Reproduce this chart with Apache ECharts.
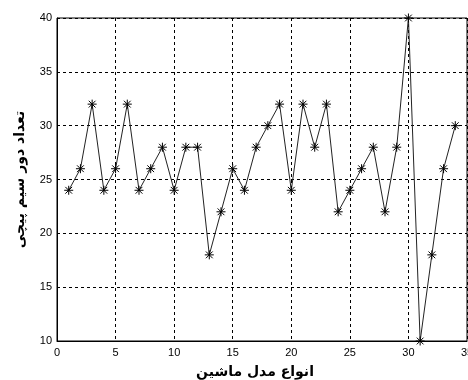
<!DOCTYPE html>
<html>
<head>
<meta charset="utf-8">
<script src="https://cdn.jsdelivr.net/npm/echarts@6/dist/echarts.min.js"></script>
<style>html,body{margin:0;padding:0;background:#fff}#c{width:468px;height:380px}</style>
</head>
<body>
<div id="c"></div>
<script>
var xValues = [1,2,3,4,5,6,7,8,9,10,11,12,13,14,15,16,17,18,19,20,21,22,23,24,25,26,27,28,29,30,31,32,33,34];
var yValues = [24,26,32,24,26,32,24,26,28,24,28,28,18,22,26,24,28,30,32,24,32,28,32,22,24,26,28,22,28,40,10,18,26,30];
var xTitle = 'انواع مدل ماشین';
var yTitle = 'تعداد دور سیم پیچی';

var chart = echarts.init(document.getElementById('c'), null, {renderer: 'canvas'});
var tickFont = {color: '#000', fontSize: 11, fontFamily: 'Liberation Sans, Arial, sans-serif'};
var titleFont = {color: '#000', fontSize: 14, fontWeight: 'bold', fontFamily: 'DejaVu Sans, sans-serif'};
var split = {show: true, lineStyle: {color: '#000', type: [3, 3], width: 1}};
chart.setOption({
  animation: false,
  grid: {left: 57, top: 18, right: 1, bottom: 39, outerBoundsMode: 'none', containLabel: false,
         show: true, borderColor: '#000', borderWidth: 1, backgroundColor: '#fff'},
  xAxis: {
    type: 'value', min: 0, max: 35, interval: 5,
    axisLine: {show: true, lineStyle: {color: '#000'}},
    axisTick: {show: false},
    axisLabel: Object.assign({margin: 6, hideOverlap: false}, tickFont),
    splitLine: split,
    name: xTitle, nameLocation: 'middle', nameGap: 24,
    nameTextStyle: Object.assign({padding: [0, 14, 0, 0]}, titleFont)
  },
  yAxis: {
    type: 'value', min: 10, max: 40, interval: 5,
    axisLine: {show: true, lineStyle: {color: '#000'}},
    axisTick: {show: false},
    axisLabel: Object.assign({margin: 5}, tickFont),
    splitLine: split,
    name: yTitle, nameLocation: 'middle', nameGap: 30, nameRotate: 90,
    nameTextStyle: titleFont
  },
  series: [{
    type: 'line',
    data: xValues.map(function (x, i) { return [x, yValues[i]]; }),
    symbol: 'path://M0,-4L0,4M-4,0L4,0M-3,-3L3,3M-3,3L3,-3',
    symbolSize: 9,
    showAllSymbol: true,
    lineStyle: {color: '#222', width: 1},
    itemStyle: {color: 'none', borderColor: '#000', borderWidth: 1},
    emphasis: {disabled: true}
  }]
});
</script>
</body>
</html>
